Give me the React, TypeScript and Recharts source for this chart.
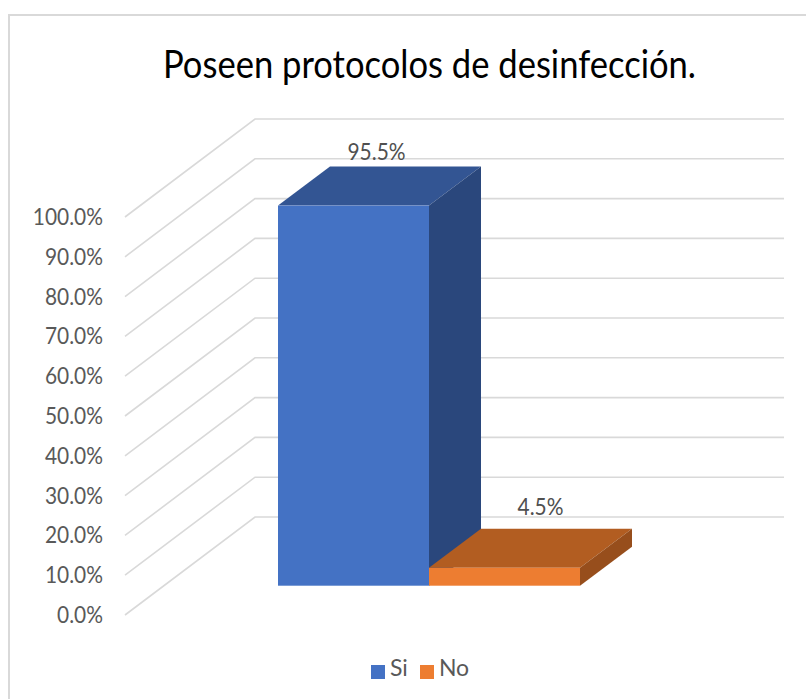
import React from "react";
import { BarChart, Bar, XAxis, YAxis, CartesianGrid, Legend, LabelList } from "recharts";

const title = "Poseen protocolos de desinfección.";
const categories = ["Poseen protocolos"];
const siValues = [95.5];
const noValues = [4.5];
const yTicks = [0, 10, 20, 30, 40, 50, 60, 70, 80, 90, 100];

const chartData = categories.map((c, i) => ({ category: c, Si: siValues[i], No: noValues[i] }));

const FONT = "Lato, Carlito, sans-serif";
const TEXT = "#595959";
const GRID = "#d9d9d9";
const WALL_DX = 130;
const WALL_DY = 98;
const PLANE_DX = 39;
const PLANE_DY = 29.3;
const DEPTH_DX = 52;
const DEPTH_DY = 39;
const TEXT_SIZE = 23.5;
const NARROW = 0.89;

const pct = (v: number) => `${Number(v).toFixed(1)}%`;

const GridLine = (p: any) => (
  <polyline
    key={p.key ?? p.y1}
    points={`${p.x1},${p.y1} ${p.x1 + WALL_DX},${p.y1 - WALL_DY} ${p.x2 + WALL_DX},${p.y1 - WALL_DY}`}
    fill="none"
    stroke={GRID}
    strokeWidth={1.6}
  />
);

const box3d = (front: string, top: string, side: string) => (p: any) => {
  const x = p.x + PLANE_DX;
  const y = p.y - PLANE_DY;
  const w = p.width;
  const h = p.height;
  return (
    <g>
      <polygon
        points={`${x},${y} ${x + DEPTH_DX},${y - DEPTH_DY} ${x + w + DEPTH_DX},${y - DEPTH_DY} ${x + w},${y}`}
        fill={top}
      />
      <polygon
        points={`${x + w},${y} ${x + w + DEPTH_DX},${y - DEPTH_DY} ${x + w + DEPTH_DX},${y + h - DEPTH_DY} ${x + w},${y + h}`}
        fill={side}
      />
      <rect x={x} y={y} width={w} height={h} fill={front} />
    </g>
  );
};

const NarrowText = ({ x, y, anchor, fill, children }: any) => (
  <text
    transform={`translate(${x},${y}) scale(${NARROW},1)`}
    textAnchor={anchor}
    fontFamily={FONT}
    fontSize={TEXT_SIZE}
    fill={fill}
  >
    {children}
  </text>
);

const valueLabel = (dx: number, dy: number) => (p: any) => (
  <NarrowText x={p.x + p.width / 2 + dx} y={p.y + dy} anchor="middle" fill="#505050">
    {pct(p.value)}
  </NarrowText>
);

const AxisTick = (p: any) => (
  <NarrowText x={p.x} y={p.y + 8} anchor="end" fill={TEXT}>
    {pct(p.payload.value)}
  </NarrowText>
);

const legendText = (value: string) => (
  <span style={{ color: TEXT, fontFamily: FONT, fontSize: 23, marginLeft: 1, marginRight: 2 }}>{value}</span>
);

export default function App() {
  return (
    <div style={{ position: "absolute", left: 0, top: 0, width: 806, height: 699, overflow: "hidden", background: "#fff" }}>
      <div style={{ position: "absolute", left: 8, top: 14, width: 900, height: 900, border: `2px solid ${GRID}` }} />
      <div style={{ position: "absolute", left: 0, top: 0 }}>
        <BarChart
          width={806}
          height={699}
          data={chartData}
          margin={{ top: 217, right: 152, bottom: 84, left: 0 }}
          barCategoryGap={0}
          barGap={0}
        >
          <text
            x={429.5}
            y={78}
            textAnchor="middle"
            fontFamily={FONT}
            fontSize={39}
            fill="#000"
            textLength={533}
            lengthAdjust="spacingAndGlyphs"
          >
            {title}
          </text>
          <CartesianGrid horizontal={GridLine} vertical={false} />
          <XAxis dataKey="category" hide />
          <YAxis
            width={125}
            domain={[0, 100]}
            ticks={yTicks}
            interval={0}
            axisLine={false}
            tickLine={false}
            tickSize={0}
            tickMargin={22}
            tick={AxisTick}
          />
          <Legend
            layout="horizontal"
            verticalAlign="middle"
            iconType="square"
            iconSize={14}
            itemSorter={null}
            formatter={legendText}
            wrapperStyle={{ left: 371, top: 653, width: "auto", height: 30 }}
          />
          <Bar dataKey="Si" fill="#4472C4" barSize={151} isAnimationActive={false} shape={box3d("#4472C4", "#335593", "#2A477C")}>
            <LabelList dataKey="Si" content={valueLabel(62, -75)} />
          </Bar>
          <Bar dataKey="No" fill="#ED7D31" barSize={151} isAnimationActive={false} shape={box3d("#ED7D31", "#B25D21", "#974E1C")}>
            <LabelList dataKey="No" content={valueLabel(75, -82)} />
          </Bar>
        </BarChart>
      </div>
    </div>
  );
}
